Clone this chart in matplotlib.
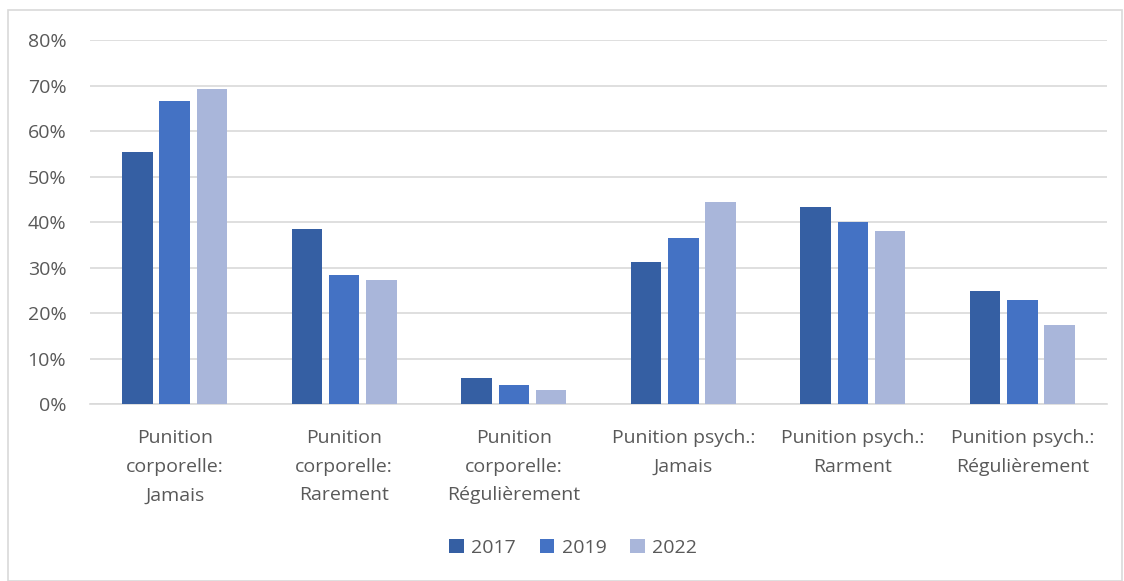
import matplotlib
matplotlib.use("Agg")
import matplotlib.pyplot as plt
import numpy as np
from matplotlib.patches import Rectangle

categories = ["Punition\ncorporelle:\nJamais", "Punition\ncorporelle:\nRarement",
              "Punition\ncorporelle:\nRégulièrement", "Punition psych.:\nJamais",
              "Punition psych.:\nRarment", "Punition psych.:\nRégulièrement"]
years = ["2017", "2019", "2022"]
v2017 = [55.5, 38.5, 5.7, 31.3, 43.3, 25.0]
v2019 = [66.7, 28.5, 4.2, 36.6, 40.0, 23.0]
v2022 = [69.3, 27.4, 3.1, 44.4, 38.0, 17.4]
colors = ["#355FA3", "#4472C4", "#A9B6DA"]

plt.rcParams['font.family'] = ['Open Sans', 'DejaVu Sans']
text_color = "#595959"

fig = plt.figure(figsize=(11.24, 5.81), dpi=100)
ax = fig.add_axes([0.080, 0.304, 0.905, 0.627])

x = np.arange(len(categories))
width = 0.18
offsets = [-0.22, 0.0, 0.22]
for vals, off, col, yr in zip([v2017, v2019, v2022], offsets, colors, years):
    ax.bar(x + off, np.array(vals) / 100, width, color=col, label=yr, zorder=3)

ax.set_xlim(-0.5, len(categories) - 0.5)
ax.set_ylim(0, 0.8)
ax.set_yticks(np.arange(0, 0.81, 0.1))
ax.set_yticklabels([f"{int(round(t*100))}%" for t in np.arange(0, 0.81, 0.1)])
ax.yaxis.grid(True, color="#D9D9D9", linewidth=1.2, zorder=0)
ax.set_axisbelow(True)
for s in ["top", "right", "left"]:
    ax.spines[s].set_visible(False)
ax.spines["bottom"].set_color("#D9D9D9")
ax.spines["bottom"].set_linewidth(1.2)
ax.tick_params(axis="both", length=0, colors=text_color, labelsize=14)
ax.tick_params(axis="y", pad=17)
ax.tick_params(axis="x", pad=18)
ax.set_xticks(x)
ax.set_xticklabels(categories, linespacing=1.75)

leg = fig.legend(loc="center", bbox_to_anchor=(0.51, 0.057), ncol=3, frameon=False,
                 fontsize=14, handlelength=0.75, handleheight=0.75, handletextpad=0.4,
                 columnspacing=1.2, labelcolor=text_color)

fig.patches.append(Rectangle((8/1124, 0), 1 - 8/1124 - 2/1124, 1 - 10/581, transform=fig.transFigure,
                             fill=False, edgecolor="#D9D9D9", linewidth=1.2))

fig.savefig("out.png", dpi=100)
